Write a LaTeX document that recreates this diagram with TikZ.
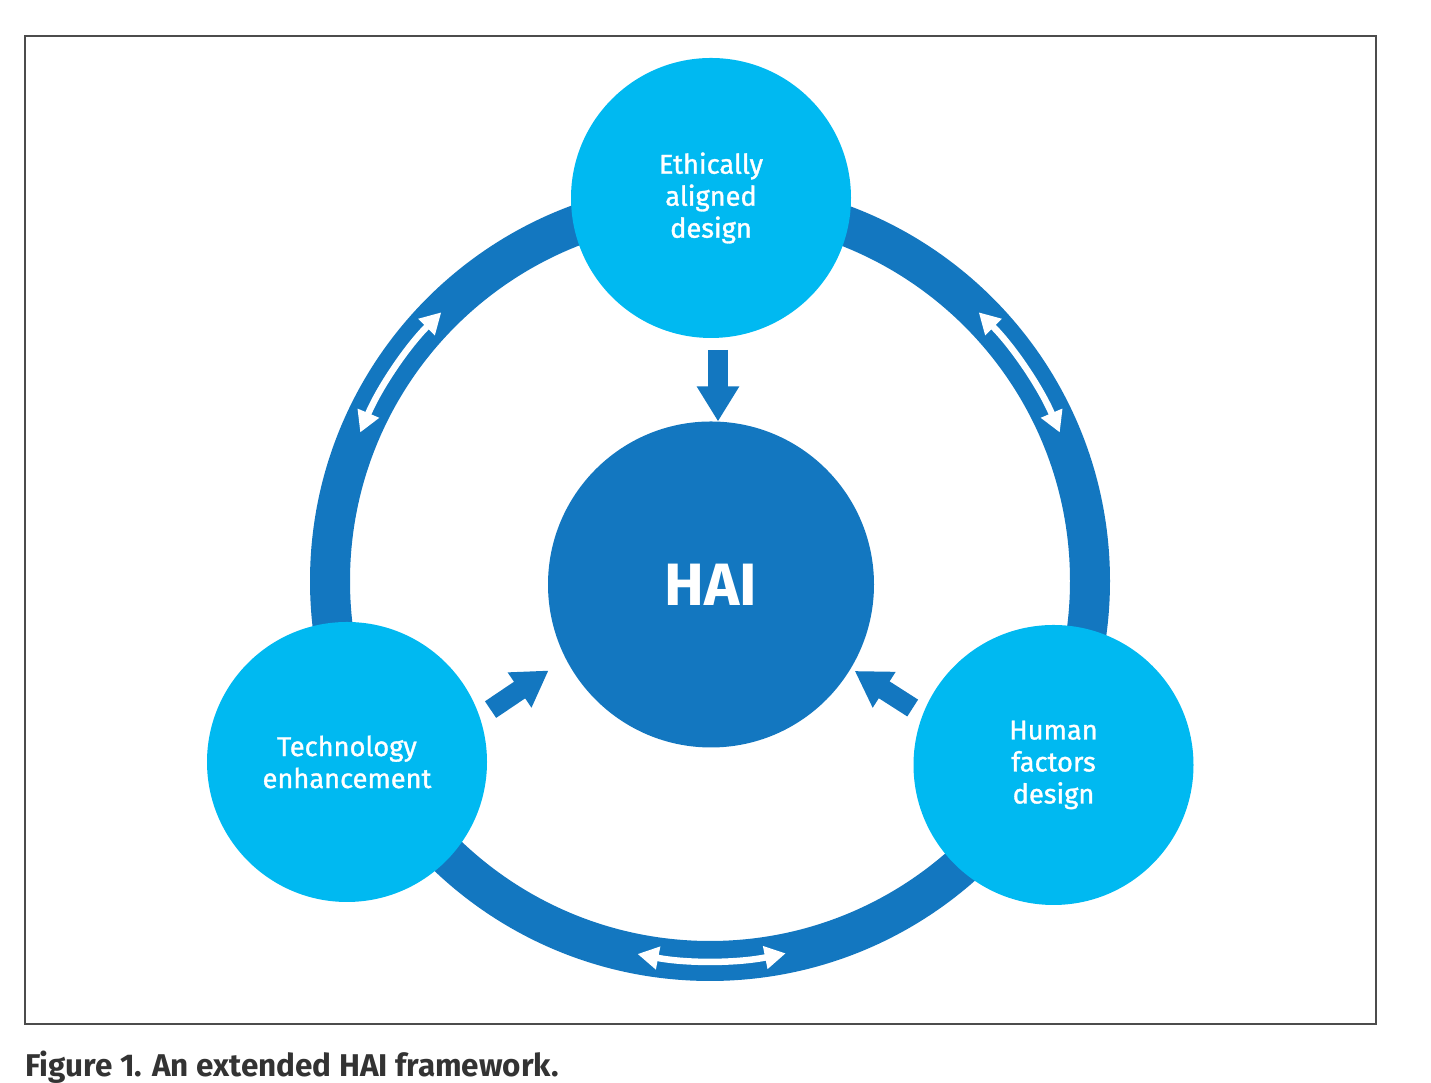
\documentclass[tikz,border=0pt]{standalone}
\usepackage{fontspec}
\setmainfont{Fira Sans}
\newfontfamily\bubblefont{Fira Sans}[FakeBold=1.2]
\usepackage{xcolor}
\usetikzlibrary{arrows.meta,calc}

\definecolor{lightblue}{HTML}{00B9F1}
\definecolor{darkblue}{HTML}{1377C0}

\begin{document}
\begin{tikzpicture}[
    bubble/.style={circle, fill=lightblue, minimum size=5.6cm, inner sep=0pt, outer sep=0pt,
        text=white, align=center, font=\bubblefont\fontsize{15.5}{18.2}\selectfont},
    blockarrow/.style={darkblue, line width=0.4cm, -{Triangle[width=0.8cm,length=0.7cm]}},
    ringarrow/.style={white, line width=0.13cm,
        {Triangle[width=0.44cm,length=0.42cm]}-{Triangle[width=0.44cm,length=0.42cm]}}
]
        \useasboundingbox (0,0) rectangle (28.62,21.66);
        \draw[black!70, line width=0.8pt] (0.5,1.18) rectangle (27.52,20.94);

        % Outer ring
        \node[circle, draw=darkblue, line width=0.8cm, minimum size=15.2cm,
              inner sep=0pt, outer sep=0pt] (ring) at (14.2,10.04) {};

        % Three design circles and the centre
        \node[bubble] (ead)  at (14.22,17.7) {Ethically\\aligned\\design};
        \node[bubble] (tech) at (6.94,6.42)  {Technology\\enhancement};
        \node[bubble] (hfd)  at (21.07,6.36) {Human\\factors\\design};
        \node[circle, fill=darkblue, minimum size=6.52cm, inner sep=0pt, outer sep=0pt,
              text=white, font=\bfseries\fontsize{34}{40}\selectfont] (hai) at (14.22,9.97) {HAI};

        % Arrows into HAI
        \draw[blockarrow, shorten <=0.24cm] ([xshift=0.14cm]ead.south) -- ([xshift=0.14cm]hai.north);
        \draw[blockarrow] ([shift={(0.24,0.09)}]tech.20) -- ([shift={(-0.37,-0.19)}]hai.208);
        \draw[blockarrow] ([shift={(-0.22,0.09)}]hfd.158) -- ([shift={(0.08,-0.05)}]hai.329);

        % Two-way arrows on the ring
        \draw[ringarrow] (ring.157) arc[start angle=157, end angle=135, radius=7.6cm];
        \draw[ringarrow] (ring.45) arc[start angle=45, end angle=23, radius=7.6cm];
        \draw[ringarrow] (ring.259) arc[start angle=259, end angle=281.5, radius=7.6cm];

        % Caption
        \node[anchor=base west, inner sep=0pt, text=black!80,
              font=\bfseries\fontsize{17.9}{20}\selectfont] (caption) at (0.5,0.12)
              {Figure 1. An extended HAI framework.};
\end{tikzpicture}
\end{document}
